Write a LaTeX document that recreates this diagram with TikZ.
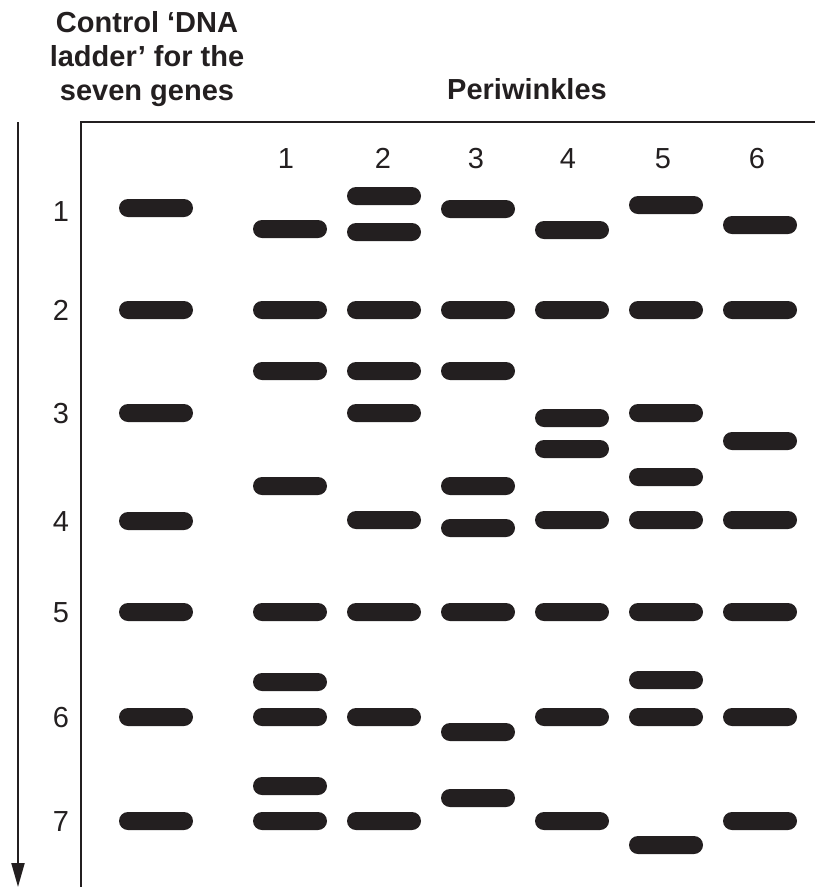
\documentclass[tikz,border=0pt]{standalone}
\usepackage{fontspec}
\setmainfont{Liberation Sans}
\usetikzlibrary{arrows.meta}
\definecolor{ink}{RGB}{35,31,32}
\tikzset{
  band/.style={fill=ink, rounded corners=9pt, minimum width=74pt, minimum height=18pt, inner sep=0pt},
  numlabel/.style={anchor=base, text=ink, inner sep=0pt, font=\fontsize{29}{34}\selectfont},
  heading/.style={anchor=base, text=ink, inner sep=0pt, align=center, font=\fontsize{29}{34}\selectfont\bfseries}
}
\begin{document}
\begin{tikzpicture}[x=1pt, y=-1pt, line width=2pt]
  \useasboundingbox (0,0) rectangle (815,887);
  % headings
  \node[heading] (ladderhead) at (147,100) {Control ‘DNA\\ladder’ for the\\seven genes};
  \node[heading] (perihead) at (527,99) {Periwinkles};
  % frame and direction arrow
  \coordinate (frametop) at (81,122);
  \coordinate (framebot) at (81,887);
  \coordinate (frameright) at (815,122);
  \draw[ink] (framebot) -- (frametop) -- (frameright);
  \coordinate (arrtop) at (18,122);
  \coordinate (arrbot) at (18,887);
  \draw[ink, -{Triangle[length=24pt, width=13pt]}] (arrtop) -- (arrbot);
  % gene numbers and ladder
  \foreach \y [count=\i] in {211,310,413,521,612,717,821}
    \node[numlabel] (gene\i) at (61,\y+10.4) {\i};
  \foreach \y [count=\i] in {208,310,413,521,612,717,821}
    \node[band] (ladder\i) at (156,\y) {};
  % periwinkle lanes
  \foreach \x/\n in {286/1,383/2,476/3,568/4,663/5,757/6}
    \node[numlabel] (lane\n) at (\x,168) {\n};
  \foreach \x/\ys [count=\j] in {
      290/{229,310,371,486,612,682,717,786,821},
      384/{196,232,310,371,413,520,612,717,821},
      478/{209,310,371,486,528,612,732,798},
      572/{230,310,418,449,520,612,717,821},
      666/{205,310,413,477,520,612,680,717,845},
      760/{225,310,441,520,612,717,821}}
    \foreach \y [count=\i] in \ys
      \node[band] (p\j-\i) at (\x,\y) {};
\end{tikzpicture}
\end{document}
